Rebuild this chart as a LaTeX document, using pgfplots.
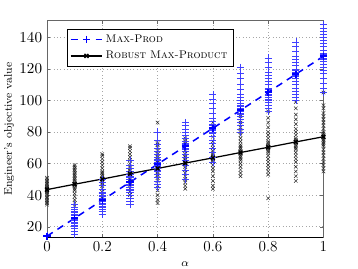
\documentclass[border=0pt]{standalone}
\usepackage{pgfplots}
\pgfplotsset{compat=1.18}
\definecolor{mpblue}{rgb}{0,0,1}
\begin{document}
\begin{tikzpicture}
\begin{axis}[
  scale only axis,
  width=200pt, height=157pt,
  xmin=0, xmax=1, ymin=13, ymax=150.5,
  xtick={0,0.2,0.4,0.6,0.8,1},
  xticklabels={0,0.2,0.4,0.6,0.8,1},
  ytick={20,40,60,80,100,120,140},
  tick label style={font=\fontsize{11}{13}\selectfont},
  xticklabel style={yshift=1pt},
  grid=major,
  major grid style={dotted, gray!70},
  axis line style={gray!80!black},
  tick style={gray!80!black},
  tick align=inside,
  major tick length=2.5pt,
  xlabel={$\alpha$},
  ylabel={\footnotesize Engineer's objective value},
  xlabel style={font=\footnotesize, at={(axis description cs:0.5,0)}, anchor=base, yshift=-20.5pt},
  ylabel style={yshift=-3pt},
  legend style={at={(0.072,0.963)}, anchor=north west, font=\footnotesize, draw=black, fill=white, row sep=1pt, inner sep=2pt},
  legend cell align=left,
  legend image code/.code={\draw[mark repeat=2,mark phase=2] plot coordinates {(0cm,0cm)(0.4cm,0cm)(0.8cm,0cm)};},
]
% Robust scatter
\addplot[only marks, mark=x, mark size=1.8pt, draw=black!85, mark options={line width=0.35pt}, forget plot] coordinates {
(0,34)(0,35)(0,36)(0,37)(0,38)(0,39)(0,40)(0,41)(0,42)(0,42.5)(0,43)(0,43.5)(0,44)(0,44.5)(0,45)(0,46)(0,47)(0,48)(0,49)(0,50)(0,51)
(0.1,33)(0.1,35)(0.1,37)(0.1,39)(0.1,41)(0.1,43)(0.1,44)(0.1,45)(0.1,46)(0.1,46.5)(0.1,47)(0.1,47.5)(0.1,48)(0.1,49)(0.1,50)(0.1,51)(0.1,52)(0.1,53)(0.1,54)(0.1,55)(0.1,56)(0.1,57)(0.1,58)(0.1,59)
(0.2,38)(0.2,40)(0.2,42)(0.2,44)(0.2,46)(0.2,47)(0.2,48)(0.2,49)(0.2,50)(0.2,51)(0.2,52)(0.2,53)(0.2,54)(0.2,55)(0.2,57)(0.2,59)(0.2,61)(0.2,63)(0.2,65)(0.2,66)
(0.3,40)(0.3,42)(0.3,44)(0.3,46)(0.3,48)(0.3,50)(0.3,51)(0.3,52)(0.3,53)(0.3,54)(0.3,55)(0.3,56)(0.3,57)(0.3,58)(0.3,60)(0.3,62)(0.3,64)(0.3,66)(0.3,68)(0.3,70)(0.3,71)
(0.4,35)(0.4,37)(0.4,40)(0.4,43)(0.4,46)(0.4,49)(0.4,51)(0.4,53)(0.4,55)(0.4,56)(0.4,57)(0.4,58)(0.4,59)(0.4,60)(0.4,61)(0.4,62)(0.4,64)(0.4,66)(0.4,68)(0.4,70)(0.4,72)(0.4,73)(0.4,86)
(0.5,44)(0.5,46)(0.5,48)(0.5,50)(0.5,52)(0.5,54)(0.5,56)(0.5,58)(0.5,59)(0.5,60)(0.5,61)(0.5,62)(0.5,63)(0.5,64)(0.5,65)(0.5,66)(0.5,68)(0.5,70)(0.5,72)(0.5,74)(0.5,76)
(0.6,44)(0.6,46)(0.6,49)(0.6,52)(0.6,55)(0.6,57)(0.6,59)(0.6,61)(0.6,62)(0.6,63)(0.6,64)(0.6,65)(0.6,66)(0.6,67)(0.6,68)(0.6,70)(0.6,72)(0.6,74)(0.6,77)(0.6,80)(0.6,83)(0.6,86)
(0.7,52)(0.7,54)(0.7,56)(0.7,58)(0.7,60)(0.7,62)(0.7,63)(0.7,64)(0.7,65)(0.7,66)(0.7,67)(0.7,68)(0.7,69)(0.7,70)(0.7,71)(0.7,72)(0.7,74)(0.7,76)(0.7,78)(0.7,80)(0.7,83)(0.7,86)(0.7,90)(0.7,94)
(0.8,38)(0.8,53)(0.8,55)(0.8,57)(0.8,59)(0.8,61)(0.8,63)(0.8,65)(0.8,67)(0.8,68)(0.8,69)(0.8,70)(0.8,71)(0.8,72)(0.8,73)(0.8,74)(0.8,76)(0.8,78)(0.8,80)(0.8,83)(0.8,86)(0.8,89)(0.8,93)
(0.9,49)(0.9,52)(0.9,55)(0.9,58)(0.9,61)(0.9,63)(0.9,65)(0.9,67)(0.9,69)(0.9,70)(0.9,71)(0.9,72)(0.9,73)(0.9,74)(0.9,75)(0.9,76)(0.9,78)(0.9,80)(0.9,82)(0.9,85)(0.9,88)(0.9,91)(0.9,95)(0.9,99)
(1,55)(1,57)(1,59)(1,61)(1,63)(1,65)(1,67)(1,69)(1,71)(1,72)(1,73)(1,74)(1,75)(1,76)(1,77)(1,78)(1,79)(1,80)(1,82)(1,84)(1,86)(1,88)(1,90)(1,92)(1,95)(1,97)(1,105)
};
% Max-Prod scatter
\addplot[only marks, mark=+, mark size=2.6pt, draw=mpblue!75, mark options={line width=0.4pt}, forget plot] coordinates {
(0,13.8)(0,14)(0,14.2)
(0.1,15)(0.1,17)(0.1,19)(0.1,20)(0.1,21)(0.1,22)(0.1,23)(0.1,24)(0.1,24.5)(0.1,25)(0.1,25.5)(0.1,26)(0.1,27)(0.1,28)(0.1,29)(0.1,30)(0.1,31)(0.1,32)(0.1,34)
(0.2,28)(0.2,30)(0.2,31)(0.2,32)(0.2,33)(0.2,34)(0.2,35)(0.2,36)(0.2,36.5)(0.2,37)(0.2,37.5)(0.2,38)(0.2,39)(0.2,40)(0.2,41)(0.2,42)(0.2,44)(0.2,46)(0.2,48)(0.2,50)
(0.3,34)(0.3,36)(0.3,38)(0.3,40)(0.3,42)(0.3,43)(0.3,44)(0.3,45)(0.3,46)(0.3,47)(0.3,48)(0.3,49)(0.3,50)(0.3,51)(0.3,52)(0.3,53)(0.3,55)(0.3,57)(0.3,59)(0.3,62)
(0.4,45)(0.4,47)(0.4,49)(0.4,51)(0.4,53)(0.4,55)(0.4,56)(0.4,57)(0.4,58)(0.4,59)(0.4,60)(0.4,61)(0.4,62)(0.4,63)(0.4,64)(0.4,66)(0.4,68)(0.4,70)(0.4,72)(0.4,75)(0.4,80)
(0.5,50)(0.5,53)(0.5,56)(0.5,59)(0.5,62)(0.5,64)(0.5,66)(0.5,68)(0.5,69)(0.5,70)(0.5,71)(0.5,72)(0.5,73)(0.5,74)(0.5,76)(0.5,78)(0.5,80)(0.5,82)(0.5,84)(0.5,86)
(0.6,61)(0.6,64)(0.6,67)(0.6,70)(0.6,73)(0.6,75)(0.6,77)(0.6,79)(0.6,80)(0.6,81)(0.6,82)(0.6,83)(0.6,84)(0.6,85)(0.6,87)(0.6,89)(0.6,92)(0.6,95)(0.6,98)(0.6,101)(0.6,104)
(0.7,80)(0.7,82)(0.7,84)(0.7,86)(0.7,88)(0.7,90)(0.7,91)(0.7,92)(0.7,93)(0.7,94)(0.7,95)(0.7,96)(0.7,97)(0.7,98)(0.7,100)(0.7,102)(0.7,104)(0.7,107)(0.7,110)(0.7,114)(0.7,117)(0.7,121)
(0.8,93)(0.8,95)(0.8,97)(0.8,99)(0.8,100)(0.8,101)(0.8,102)(0.8,103)(0.8,104)(0.8,105)(0.8,106)(0.8,107)(0.8,108)(0.8,110)(0.8,112)(0.8,114)(0.8,116)(0.8,118)(0.8,121)(0.8,124)(0.8,127)
(0.9,100)(0.9,102)(0.9,104)(0.9,106)(0.9,108)(0.9,110)(0.9,112)(0.9,114)(0.9,115)(0.9,116)(0.9,117)(0.9,118)(0.9,119)(0.9,120)(0.9,122)(0.9,124)(0.9,126)(0.9,128)(0.9,131)(0.9,134)(0.9,137)
(1,105)(1,108)(1,111)(1,114)(1,117)(1,119)(1,121)(1,123)(1,125)(1,126)(1,127)(1,128)(1,129)(1,130)(1,132)(1,134)(1,136)(1,138)(1,140)(1,142)(1,144)(1,146)(1,148)(1,151)
};
% Mean lines
\addplot[mpblue, dashed, line width=1.1pt, dash pattern=on 5pt off 4pt, mark=+, mark size=2.6pt, mark options={solid, line width=1.1pt}] coordinates {
(0,14)(0.1,25.4)(0.2,36.8)(0.3,48.2)(0.4,59.6)(0.5,71)(0.6,82.4)(0.7,93.8)(0.8,105.2)(0.9,116.6)(1,128)
};
\addlegendentry{\textsc{Max-Prod}}
\addplot[black, line width=0.9pt, mark=x, mark size=2pt, mark options={solid, line width=1pt}] coordinates {
(0,43.5)(0.1,46.9)(0.2,50.2)(0.3,53.6)(0.4,56.9)(0.5,60.3)(0.6,63.6)(0.7,67)(0.8,70.3)(0.9,73.7)(1,77)
};
\addlegendentry{\textsc{Robust Max-Product}}
\draw[black, line width=0.8pt] (rel axis cs:0,0) -- (rel axis cs:1,0);
\end{axis}
\pgfresetboundingbox
\path ([shift={(-34pt,-22.5pt)}]current axis.south west) rectangle ([shift={(25pt,15pt)}]current axis.north east);
\end{tikzpicture}
\end{document}
